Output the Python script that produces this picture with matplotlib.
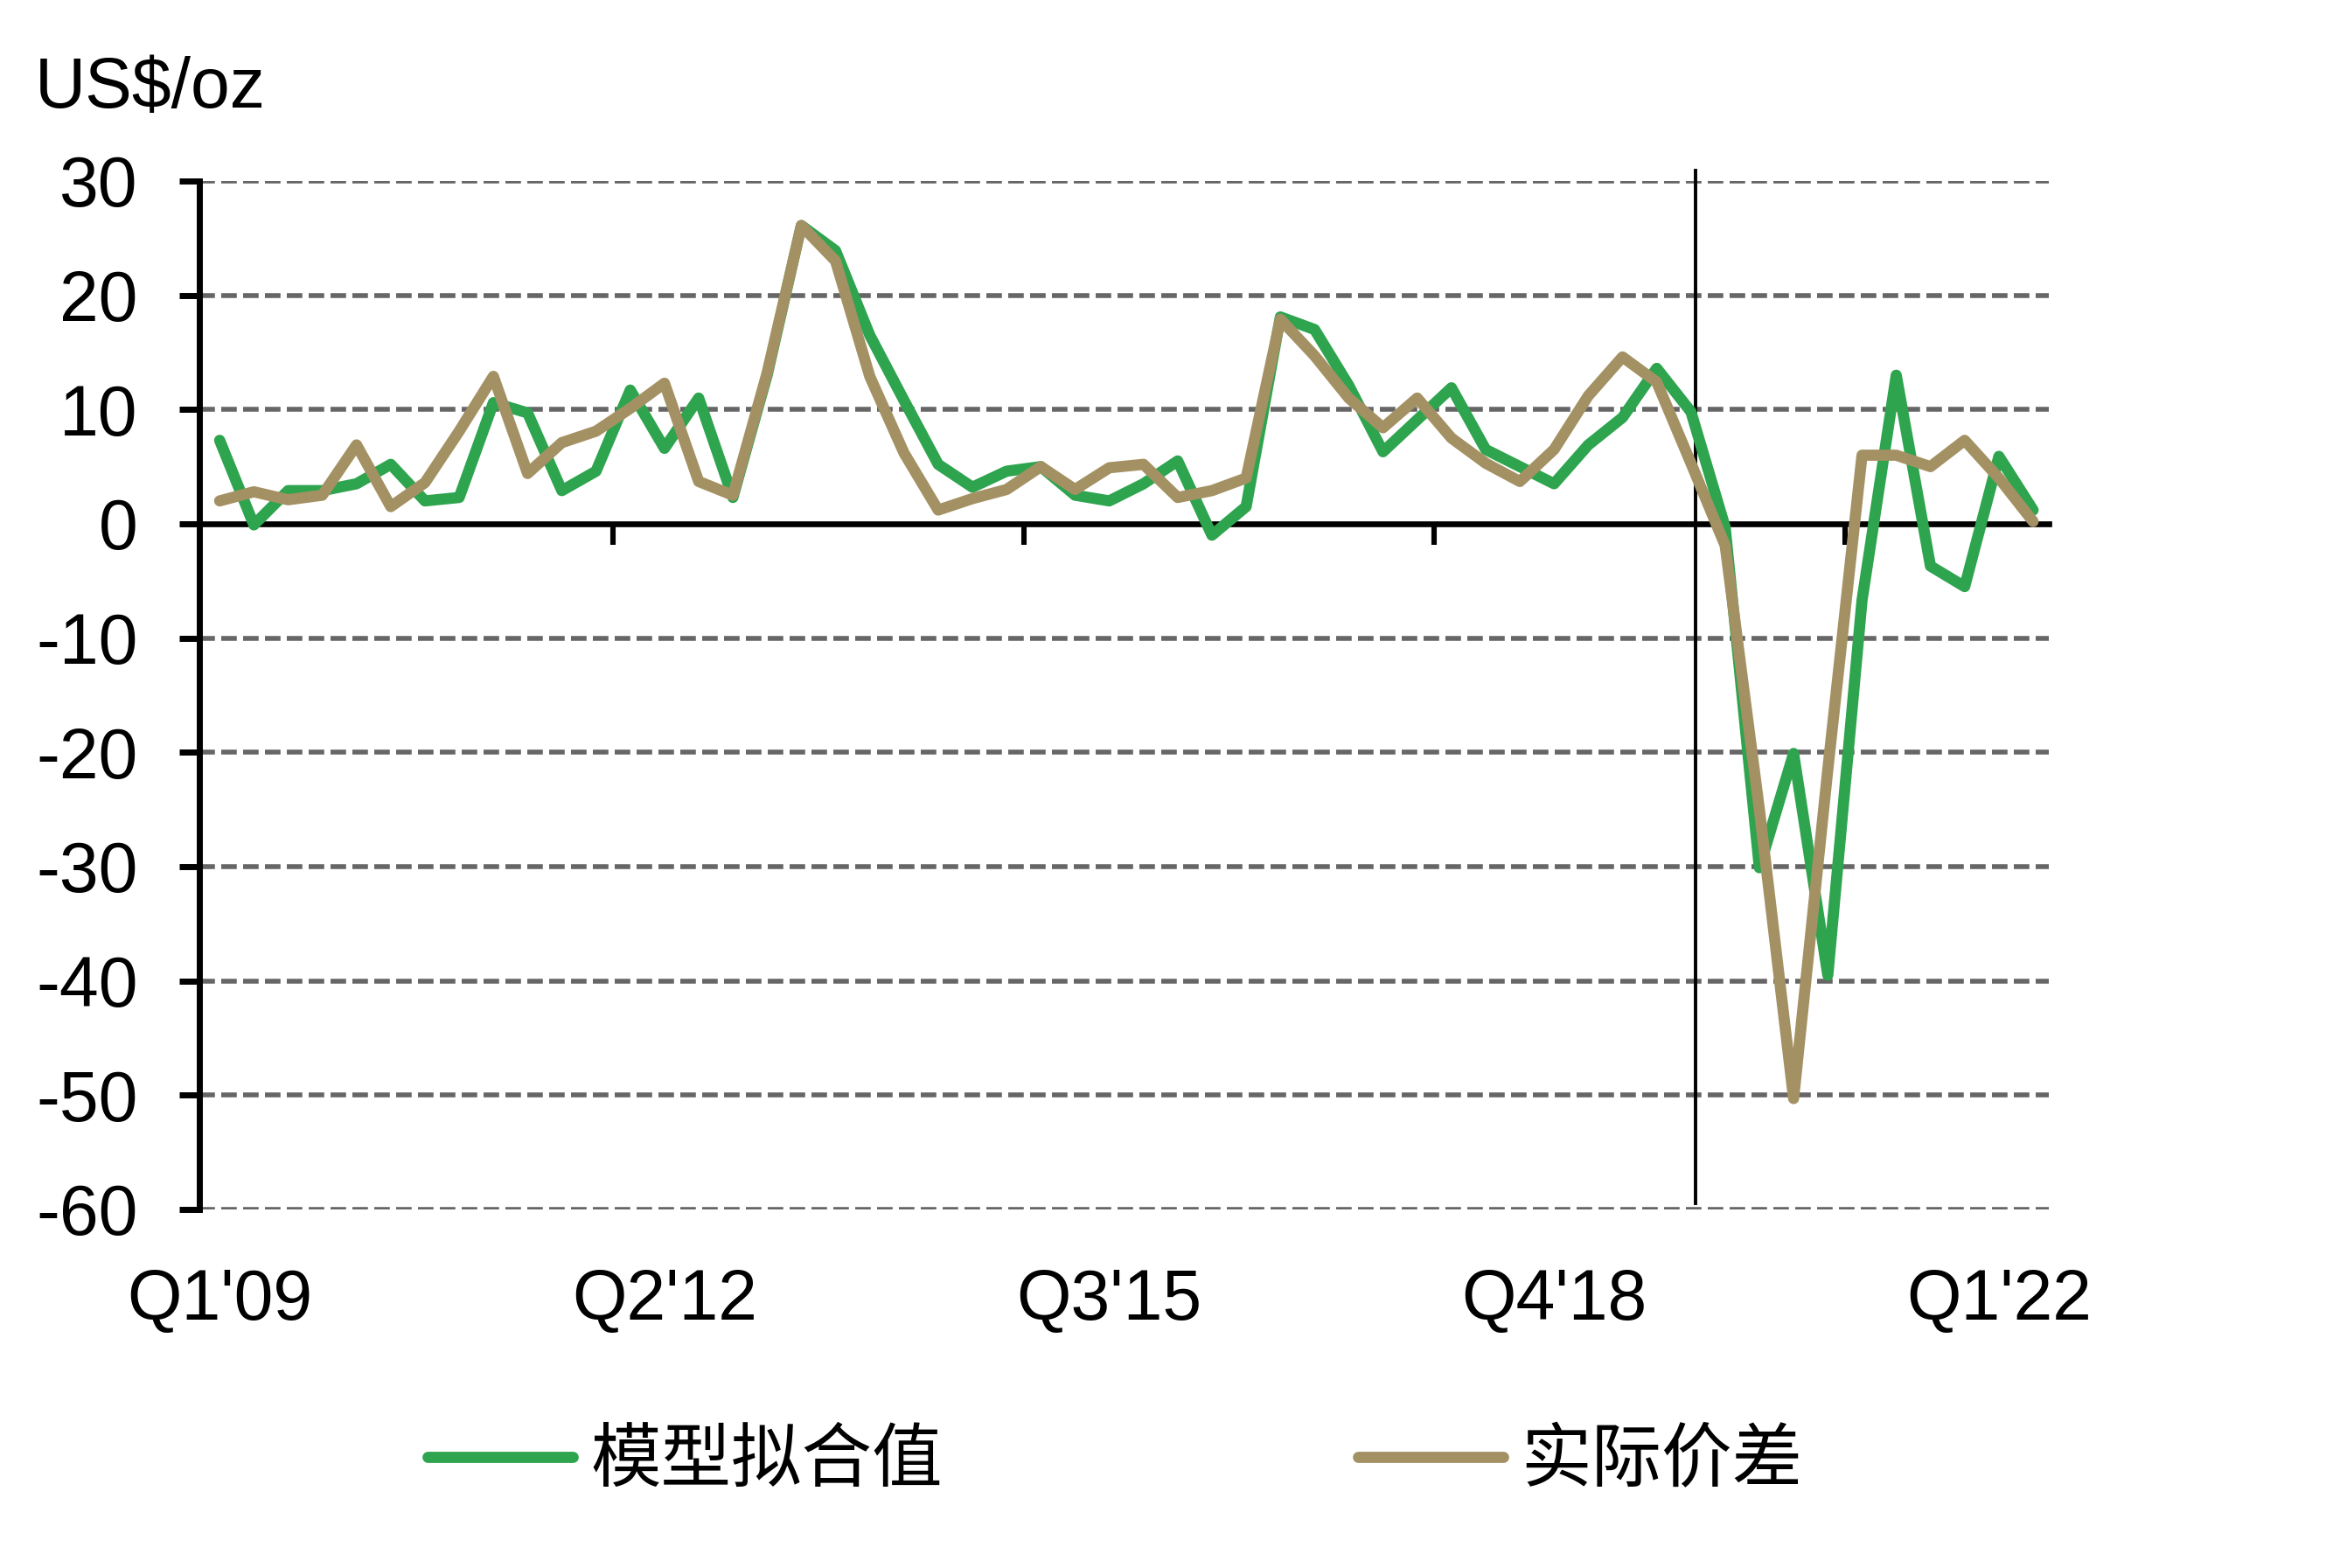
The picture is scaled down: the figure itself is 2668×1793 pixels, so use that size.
import matplotlib
matplotlib.use("Agg")
import matplotlib.pyplot as plt

plt.rcParams['font.family'] = ['Liberation Sans', 'Noto Sans CJK SC', 'DejaVu Sans']
plt.rcParams['axes.unicode_minus'] = False

# quarterly data, Q1'09 .. Q2'22
model_fit = [7.3, -0.1, 2.9, 2.9, 3.5, 5.2, 2.0, 2.3, 10.6, 9.7,
             2.9, 4.6, 11.7, 6.6, 11.0, 2.3, 13.0, 26.1, 23.9, 16.5,
             10.8, 5.2, 3.2, 4.6, 5.0, 2.5, 2.0, 3.5, 5.5, -1.0,
             1.5, 18.1, 17.0, 12.1, 6.3, 9.1, 11.9, 6.5, 5.0, 3.5,
             6.9, 9.3, 13.6, 9.8, -0.3, -30.1, -20.1, -39.5, -6.7, 13.0,
             -3.7, -5.5, 5.9, 1.2]
actual_spread = [2.0, 2.8, 2.1, 2.5, 6.9, 1.5, 3.6, 8.1, 12.9, 4.4,
                 7.1, 8.1, 10.1, 12.3, 3.7, 2.5, 13.2, 26.1, 23.0, 12.9,
                 6.2, 1.2, 2.2, 3.0, 5.0, 3.0, 4.9, 5.2, 2.3, 2.9,
                 4.0, 17.9, 14.7, 11.0, 8.4, 11.0, 7.5, 5.3, 3.7, 6.5,
                 11.2, 14.6, 12.4, 5.3, -1.9, -25.0, -50.3, -21.5, 6.0, 6.0,
                 5.0, 7.3, 4.0, 0.2]
x_labels = ["Q1'09", "Q2'12", "Q3'15", "Q4'18", "Q1'22"]
label_idx = [0, 13, 26, 39, 52]
tick_idx = [11.5, 23.5, 35.5, 47.5]
y_ticks = [30, 20, 10, 0, -10, -20, -30, -40, -50, -60]
split_idx = 43.14  # vertical marker line

green = '#2EA44E'
brown = '#A49163'

fig = plt.figure(figsize=(13.34, 8.965), dpi=200)
ax = fig.add_axes([0.0855, 0.2287, 0.7927, 0.6559])

x = list(range(len(model_fit)))
ax.plot(x, model_fit, color=green, lw=4.6, label='模型拟合值', zorder=4,
        solid_joinstyle='round', solid_capstyle='round')
ax.plot(x, actual_spread, color=brown, lw=4.6, label='实际价差', zorder=5,
        solid_joinstyle='round', solid_capstyle='round')

ax.set_xlim(-0.59, 53.46)
ax.set_ylim(-60, 30)

# dashed grid
for yv in y_ticks:
    if yv != 0:
        ax.axhline(yv, color='#666666', lw=2.0, ls=(0, (3.2, 1.3)), zorder=1)

ax.axvline(split_idx, ymin=0.006, ymax=1.01, color='black', lw=1.4,
           clip_on=False, zorder=3)

for s in ['top', 'right']:
    ax.spines[s].set_visible(False)
ax.spines['left'].set_linewidth(2.5)
ax.spines['bottom'].set_position(('data', 0))
ax.spines['bottom'].set_linewidth(2.4)
ax.spines['bottom'].set_zorder(3)

ax.set_yticks(y_ticks)
ax.set_yticklabels([str(v) for v in y_ticks])
ax.tick_params(axis='y', direction='out', length=8.3, width=2.5,
               labelsize=29, pad=17)

ax.set_xticks(tick_idx)
ax.set_xticklabels([''] * len(tick_idx))
ax.tick_params(axis='x', direction='out', length=8.5, width=2.2)

sec = ax.secondary_xaxis('bottom')
sec.set_xticks(label_idx)
sec.set_xticklabels(x_labels)
sec.tick_params(axis='x', length=0, labelsize=29, pad=24)
sec.spines['bottom'].set_visible(False)

fig.text(0.015, 0.9314, 'US$/oz', fontsize=29, va='baseline', ha='left')

leg = fig.legend(loc='center', bbox_to_anchor=(0.478, 0.067), ncol=2,
                 frameon=False, fontsize=29, handlelength=2.06,
                 handletextpad=0.25, columnspacing=5.9)
for line in leg.get_lines():
    line.set_linewidth(4.6)

fig.savefig('out.png', dpi=200)
